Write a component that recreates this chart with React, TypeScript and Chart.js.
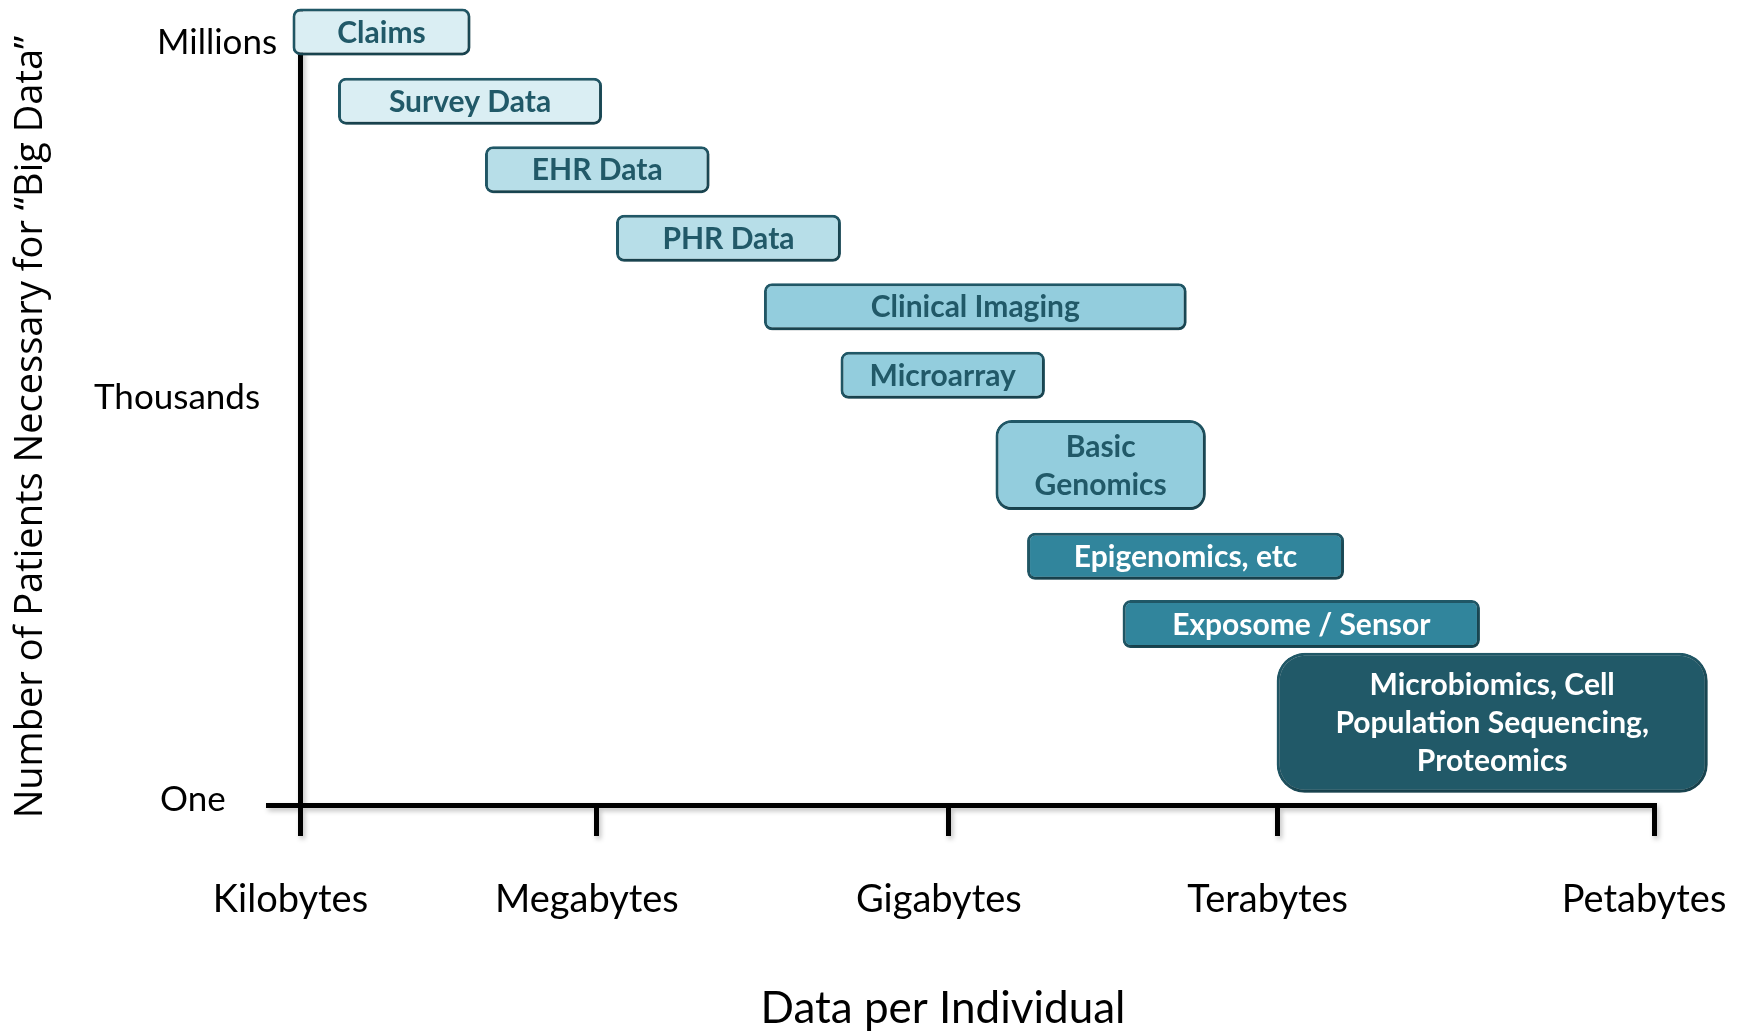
import React, { useEffect, useRef } from 'react';
import { Chart, registerables } from 'chart.js';

Chart.register(...registerables);

// ---------- data ----------
const CATEGORIES = [
  'Claims',
  'Survey Data',
  'EHR Data',
  'PHR Data',
  'Clinical Imaging',
  'Microarray',
  'Basic Genomics',
  'Epigenomics, etc',
  'Exposome / Sensor',
  'Microbiomics, Cell Population Sequencing, Proteomics',
];
const BOX_LINES: string[][] = [
  ['Claims'],
  ['Survey Data'],
  ['EHR Data'],
  ['PHR Data'],
  ['Clinical Imaging'],
  ['Microarray'],
  ['Basic', 'Genomics'],
  ['Epigenomics, etc'],
  ['Exposome / Sensor'],
  ['Microbiomics, Cell', 'Population Sequencing,', 'Proteomics'],
];
// data per individual (axis units: Kilobytes = 0 ... Petabytes = 100)
const DATA_START = [-0.59, 2.77, 13.63, 23.31, 34.24, 39.9, 51.35, 53.68, 60.74, 72.12];
const DATA_END = [12.56, 22.28, 30.22, 39.93, 65.47, 55.0, 66.89, 77.1, 87.14, 103.97];
// number of patients level (axis units: One ≈ 0 ... Millions ≈ 11)
const PATIENT_LEVEL = [11.28, 10.27, 9.27, 8.27, 7.27, 6.27, 4.96, 3.63, 2.64, 1.2];

const X_TICK_LABELS = ['Kilobytes', 'Megabytes', 'Gigabytes', 'Terabytes', 'Petabytes'];
const X_TICK_VALUES = [0, 21.9, 47.9, 72.2, 100];
const Y_TICK_LABELS = ['Millions', 'Thousands', 'One'];
const Y_TICK_VALUES = [11.12, 5.94, 0.07];
const X_TITLE = 'Data per Individual';
const Y_TITLE = 'Number of Patients Necessary for \u201CBig Data\u201D';

// ---------- styles ----------
const FILLS = ['#DAEEF3', '#DAEEF3', '#B7DEE8', '#B7DEE8', '#93CDDD', '#93CDDD', '#93CDDD', '#31859C', '#31859C', '#215968'];
const TEXT_COLORS = ['#215968', '#215968', '#215968', '#215968', '#215968', '#215968', '#215968', '#FFFFFF', '#FFFFFF', '#FFFFFF'];
const BORDER_COLOR = '#215968';
const BOX_HEIGHTS = [47, 47, 47, 47, 47, 47, 90, 47, 48, 140];
const BOX_RADII = [8, 8, 8, 8, 8, 8, 16, 8, 8, 28];
const Y_LABEL_LEFT = [157, 94, 160];
const X_TITLE_POS = { x: 943, y: 1009 };
const Y_TITLE_POS = { x: 31, y: 427 };
const W = 1744;
const H = 1032;

const setShadow = (ctx: CanvasRenderingContext2D, alpha: number) => {
  ctx.shadowColor = `rgba(0,0,0,${alpha})`;
  ctx.shadowBlur = 5;
  ctx.shadowOffsetX = 2;
  ctx.shadowOffsetY = 3;
};

const axisShadow = {
  id: 'axisShadow',
  beforeDraw(chart: any) {
    chart.ctx.save();
    setShadow(chart.ctx, 0.25);
  },
  beforeDatasetsDraw(chart: any) {
    chart.ctx.restore();
  },
};

const boxShadow = {
  id: 'boxShadow',
  beforeDatasetDraw(chart: any) {
    chart.ctx.save();
    setShadow(chart.ctx, 0.35);
  },
  afterDatasetDraw(chart: any) {
    chart.ctx.restore();
  },
};

const boxLabels = {
  id: 'boxLabels',
  afterDatasetsDraw(chart: any) {
    const ctx = chart.ctx;
    ctx.save();
    ctx.font = 'bold 30px Lato';
    ctx.textAlign = 'center';
    ctx.textBaseline = 'middle';
    const lh = 38;
    chart.data.datasets.forEach((_: any, i: number) => {
      const el = chart.getDatasetMeta(i).data[0];
      if (!el) return;
      const c = el.getCenterPoint();
      const lines = BOX_LINES[i];
      ctx.fillStyle = TEXT_COLORS[i];
      lines.forEach((t, k) => {
        ctx.fillText(t, c.x, c.y + (k - (lines.length - 1) / 2) * lh + 1);
      });
    });
    ctx.restore();
  },
};

const axisText = {
  id: 'axisText',
  afterDraw(chart: any) {
    const ctx = chart.ctx;
    const ys = chart.scales.y;
    ctx.save();
    ctx.fillStyle = '#000';
    ctx.font = '35px Lato';
    ctx.textAlign = 'left';
    ctx.textBaseline = 'middle';
    Y_TICK_LABELS.forEach((t, i) => {
      ctx.fillText(t, Y_LABEL_LEFT[i], ys.getPixelForValue(Y_TICK_VALUES[i]));
    });
    ctx.textAlign = 'center';
    ctx.font = '44px Lato';
    ctx.fillText(X_TITLE, X_TITLE_POS.x, X_TITLE_POS.y);
    ctx.translate(Y_TITLE_POS.x, Y_TITLE_POS.y);
    ctx.rotate(-Math.PI / 2);
    ctx.font = '38px "Open Sans"';
    ctx.fillText(Y_TITLE, 0, 0);
    ctx.restore();
  },
};

export default function App() {
  const ref = useRef<HTMLCanvasElement | null>(null);
  useEffect(() => {
    if (!ref.current) return;
    const chart = new Chart(ref.current, {
      type: 'bar',
      data: {
        datasets: CATEGORIES.map((c, i) => ({
          label: c,
          data: [{ x: [DATA_START[i], DATA_END[i]], y: PATIENT_LEVEL[i] }] as any,
          backgroundColor: FILLS[i],
          borderColor: BORDER_COLOR,
          borderWidth: 3,
          borderRadius: BOX_RADII[i],
          borderSkipped: false,
          barThickness: BOX_HEIGHTS[i],
          grouped: false,
          clip: false as any,
          inflateAmount: 0,
        })),
      },
      options: {
        indexAxis: 'y',
        animation: false,
        responsive: false,
        devicePixelRatio: 1,
        layout: { padding: { left: 268, right: 90, top: 10, bottom: 0 } },
        plugins: { legend: { display: false }, tooltip: { enabled: false } },
        scales: {
          x: {
            type: 'linear',
            min: -2.4,
            max: 100,
            offset: false,
            afterBuildTicks: (scale: any) => {
              scale.ticks = X_TICK_VALUES.map((v) => ({ value: v }));
            },
            afterFit: (scale: any) => {
              scale.height = H - 805;
              scale.paddingLeft = 0;
              scale.paddingRight = 0;
            },
            ticks: {
              z: 1,
              autoSkip: false,
              maxRotation: 0,
              minRotation: 0,
              padding: 41,
              labelOffset: -10,
              color: '#000',
              font: { family: 'Lato', size: 38 },
              callback: (_v: any, idx: number) => X_TICK_LABELS[idx],
            },
            grid: {
              z: -1,
              offset: false,
              drawOnChartArea: true,
              drawTicks: true,
              tickLength: 31,
              tickWidth: 5,
              tickColor: '#000',
              lineWidth: 5,
              color: (ctx: any) => (ctx.tick && ctx.tick.value === 0 ? '#000' : 'rgba(0,0,0,0)'),
            },
            border: { display: true, width: 5, color: '#000', z: 0 },
          },
          y: {
            type: 'linear',
            min: 0,
            max: 11.6,
            offset: false,
            display: false,
            grid: { offset: false },
          },
        },
      },
      plugins: [axisShadow, boxShadow, boxLabels, axisText],
    } as any);
    return () => chart.destroy();
  }, []);
  return (
    <div style={{ position: 'fixed', left: 0, top: 0, width: W, height: H, background: '#fff' }}>
      <canvas ref={ref} width={W} height={H} style={{ display: 'block', width: W, height: H }} />
    </div>
  );
}
